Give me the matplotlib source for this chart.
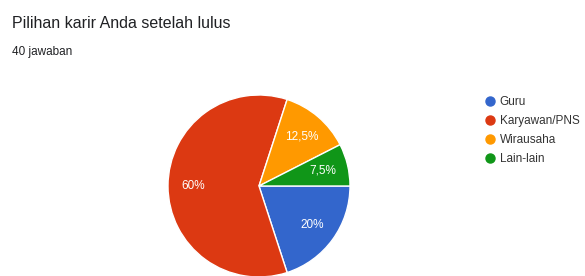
import matplotlib.pyplot as plt
from matplotlib.lines import Line2D

labels = ['Guru', 'Karyawan/PNS', 'Wirausaha', 'Lain-lain']
values = [20, 60, 12.5, 7.5]
pct_text = ['20%', '60%', '12,5%', '7,5%']
colors = ['#3366cc', '#dc3912', '#ff9900', '#109618']

plt.rcParams['font.family'] = ['Liberation Sans', 'DejaVu Sans']

fig = plt.figure(figsize=(5.85, 2.76), dpi=100)

# title + response count
fig.text(12 / 585, 1 - 23 / 276, 'Pilihan karir Anda setelah lulus',
         fontsize=11.5, color='#202124', va='center', ha='left')
fig.text(12 / 585, 1 - 52 / 276, '40 jawaban',
         fontsize=8.5, color='#202124', va='center', ha='left')

# pie: centre ~(259,186) px, radius ~91 px
ax = fig.add_axes([168 / 585, (276 - 277) / 276, 182 / 585, 182 / 276])
wedges, texts = ax.pie(values, colors=colors, startangle=0, counterclock=False,
                       radius=1, labels=pct_text, labeldistance=0.72,
                       wedgeprops=dict(edgecolor='white', linewidth=1))
for t in texts:
    t.set_color('white')
    t.set_fontsize(8.5)
    t.set_ha('center')
    t.set_va('center')
ax.set_xlim(-1, 1)
ax.set_ylim(-1, 1)
ax.set_aspect('equal')
ax.axis('off')

# legend
handles = [Line2D([], [], marker='o', linestyle='', markersize=6.5,
                  markerfacecolor=c, markeredgecolor=c) for c in colors]
fig.legend(handles, labels, loc='upper left',
           bbox_to_anchor=(485 / 585, 1 - 96 / 276), frameon=False,
           fontsize=8.5, labelspacing=0.6, handlelength=0.8,
           handletextpad=0.45, borderpad=0, borderaxespad=0,
           labelcolor='#333333')

fig.savefig('out.png', dpi=100, facecolor='white')
